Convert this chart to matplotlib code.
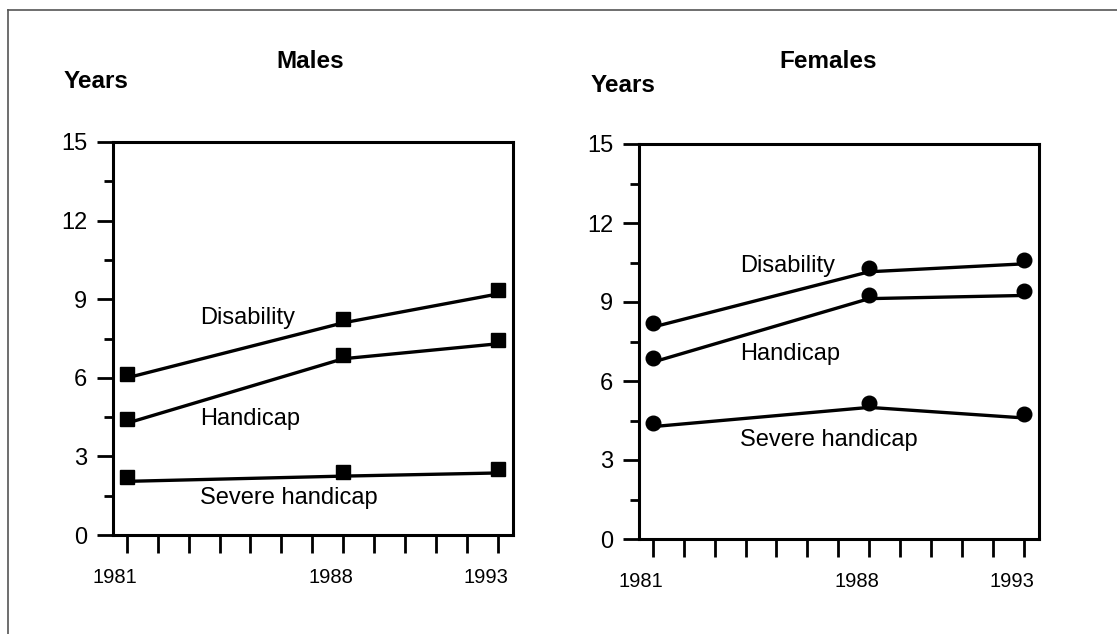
import matplotlib.pyplot as plt
import matplotlib.transforms as mtransforms
from matplotlib.lines import Line2D

plt.rcParams['font.family'] = ['Liberation Sans', 'DejaVu Sans']

# data
years = [1981, 1988, 1993]
series_names = ['Disability', 'Handicap', 'Severe handicap']
males = {
    'Disability': [6.15, 8.25, 9.35],
    'Handicap': [4.42, 6.88, 7.45],
    'Severe handicap': [2.2, 2.4, 2.52],
}
females = {
    'Disability': [8.2, 10.3, 10.6],
    'Handicap': [6.87, 9.28, 9.4],
    'Severe handicap': [4.42, 5.15, 4.75],
}
# where the series names sit (x in years, y in years of life)
males_label_pos = {'Disability': (1983.36, 8.28), 'Handicap': (1983.36, 4.43),
                   'Severe handicap': (1983.36, 1.41)}
females_label_pos = {'Disability': (1983.83, 10.37), 'Handicap': (1983.83, 7.03),
                     'Severe handicap': (1983.83, 3.76)}

W, H = 1117, 634
fig = plt.figure(figsize=(W / 100, H / 100), dpi=100)

# thin grey frame along top and left edge
fig.add_artist(Line2D([8 / W, 1], [1 - 10 / H, 1 - 10 / H], transform=fig.transFigure,
                      color='#555555', lw=1.2))
fig.add_artist(Line2D([8 / W, 8 / W], [0, 1 - 10 / H], transform=fig.transFigure,
                      color='#555555', lw=1.2))


def draw_panel(rect, data, label_pos, marker, msize, title, title_x, years_x, years_y):
    ax = fig.add_axes(rect)
    line_shift = ax.transData + mtransforms.ScaledTranslation(0, -4 / 100, fig.dpi_scale_trans)
    for name in series_names:
        ax.plot(years, data[name], color='black', lw=2.4, transform=line_shift,
                solid_capstyle='butt', zorder=2)
        ax.plot(years, data[name], linestyle='none', marker=marker, markersize=msize,
                color='black', zorder=3)
        x, y = label_pos[name]
        ax.text(x, y, name, fontsize=17, ha='left', va='center')

    ax.set_xlim(1980.55, 1993.5)
    ax.set_ylim(0, 15)
    ax.set_yticks([0, 3, 6, 9, 12, 15])
    ax.set_yticks([1.5, 4.5, 7.5, 10.5, 13.5], minor=True)
    ax.set_xticks(range(1981, 1994))
    ax.set_xticklabels([str(y) if y in years else '' for y in range(1981, 1994)])
    ax.tick_params(axis='y', which='major', length=11.5, width=2, labelsize=17, pad=7)
    ax.tick_params(axis='y', which='minor', length=6.5, width=2)
    ax.tick_params(axis='x', length=13, width=2, labelsize=14.5, pad=11)
    # labels sit a little left of their ticks in the original
    for lab in ax.get_xticklabels():
        lab.set_transform(lab.get_transform() +
                          mtransforms.ScaledTranslation(-12 / 100, 0, fig.dpi_scale_trans))
    for sp in ax.spines.values():
        sp.set_linewidth(2.2)

    fig.text(title_x / W, 1 - 61 / H, title, fontsize=17.5, fontweight='bold',
             ha='center', va='center')
    fig.text(years_x / W, 1 - years_y / H, 'Years', fontsize=17.5, fontweight='bold',
             ha='left', va='center')
    return ax


draw_panel([113 / W, 1 - 535 / H, 400 / W, 393 / H], males, males_label_pos,
           's', 10.5, 'Males', 310, 64, 82)
draw_panel([639 / W, 1 - 539 / H, 400 / W, 395 / H], females, females_label_pos,
           'o', 10.5, 'Females', 828, 591, 86)

fig.savefig('out.png', dpi=100)
